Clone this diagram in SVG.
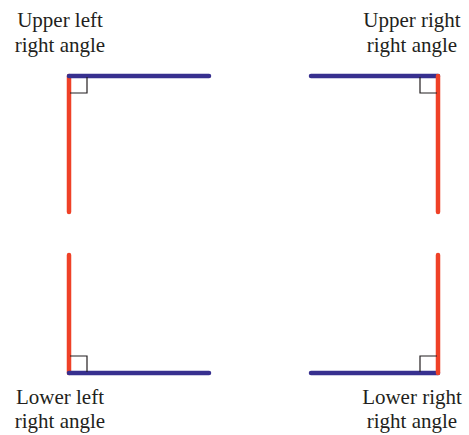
<svg xmlns="http://www.w3.org/2000/svg" width="469" height="435" viewBox="0 0 469 435">
  <style>
    .lbl { font-family: "Liberation Serif", "DejaVu Serif", serif; font-size: 21px; fill: #231f20; text-anchor: middle; }
    .blue { stroke: #37308f; stroke-width: 4.5; stroke-linecap: round; fill: none; }
    .red { stroke: #ef4127; stroke-width: 4.5; stroke-linecap: round; fill: none; }
    .mark { stroke: #231f20; stroke-width: 1.2; fill: none; }
  </style>
  <rect width="469" height="435" fill="#ffffff"/>

  <g id="upper-left">
    <text class="lbl" x="60" y="27">Upper left</text>
    <text class="lbl" x="60" y="52">right angle</text>
    <line class="red" x1="69" y1="76" x2="69" y2="212"/>
    <line class="blue" x1="69" y1="76" x2="209" y2="76"/>
    <polyline class="mark" points="87,77 87,93 70,93"/>
  </g>

  <g id="upper-right">
    <text class="lbl" x="412" y="27">Upper right</text>
    <text class="lbl" x="412" y="52">right angle</text>
    <line class="blue" x1="311" y1="76" x2="438" y2="76"/>
    <line class="red" x1="438" y1="76" x2="438" y2="212"/>
    <polyline class="mark" points="420,77 420,93 437,93"/>
  </g>

  <g id="lower-left">
    <line class="red" x1="69" y1="255" x2="69" y2="373"/>
    <line class="blue" x1="69" y1="373" x2="209" y2="373"/>
    <polyline class="mark" points="70,356 87,356 87,372"/>
    <text class="lbl" x="60" y="404">Lower left</text>
    <text class="lbl" x="60" y="428">right angle</text>
  </g>

  <g id="lower-right">
    <line class="blue" x1="311" y1="373" x2="438" y2="373"/>
    <line class="red" x1="438" y1="255" x2="438" y2="373"/>
    <polyline class="mark" points="437,356 420,356 420,372"/>
    <text class="lbl" x="412" y="404">Lower right</text>
    <text class="lbl" x="412" y="428">right angle</text>
  </g>
</svg>
